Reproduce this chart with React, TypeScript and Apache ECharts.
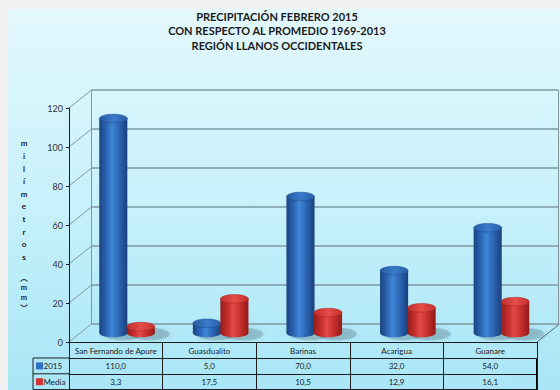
import React, { useEffect, useRef } from 'react';
import * as echarts from 'echarts';

const categories = ['San Fernando de Apure', 'Guasdualito', 'Barinas', 'Acarigua', 'Guanare'];
const values2015 = [110.0, 5.0, 70.0, 32.0, 54.0];
const valuesMedia = [3.3, 17.5, 10.5, 12.9, 16.1];
const seriesNames = ['2015', 'Media'];
const yTicks = [0, 20, 40, 60, 80, 100, 120];
const titleLines = ['PRECIPITACIÓN FEBRERO 2015', 'CON RESPECTO AL PROMEDIO 1969-2013', 'REGIÓN LLANOS OCCIDENTALES'];
const yTitleLetters = ['m', 'i', 'l', 'í', 'm', 'e', 't', 'r', 'o', 's'];
const yUnitLetters = ['︵', 'm', 'm', '︶'];

const FONT = 'Lato, "Noto Sans", sans-serif';
const CJK = '"Noto Sans CJK SC", Lato, sans-serif';
const Y_MAX = 120;
const FRONT = { left: 69, top: 108, width: 468, height: 234 };
const DX = 22.5;
const DY = 18;
const BACK = { left: FRONT.left + DX, top: FRONT.top - DY, width: FRONT.width - 1, height: FRONT.height };
const MID = { left: FRONT.left + DX / 2, top: FRONT.top - DY / 2, width: FRONT.width, height: FRONT.height };

const fmt = (v: number) => v.toFixed(1).replace('.', ',');
const yFront = (v: number) => FRONT.top + FRONT.height * (1 - v / Y_MAX);

const lg = (stops: [number, string][], x2 = 1, y2 = 0) =>
  new echarts.graphic.LinearGradient(0, 0, x2, y2, stops.map(([offset, color]) => ({ offset, color })));

const palettes = [
  {
    body: [[0, '#1a4381'], [0.28, '#2d68b8'], [0.45, '#3e87d8'], [0.72, '#2b63b0'], [1, '#19407c']] as [number, string][],
    top: [[0, '#275aa2'], [0.5, '#3a7bca'], [1, '#2a5ea8']] as [number, string][],
    edge: '#1f4a8a',
    legend: '#2f6fc4',
  },
  {
    body: [[0, '#961d1b'], [0.28, '#c93130'], [0.45, '#e14a46'], [0.72, '#c52e2d'], [1, '#901b19']] as [number, string][],
    top: [[0, '#c22e2b'], [0.5, '#e44d48'], [1, '#c5302d']] as [number, string][],
    edge: '#a72523',
    legend: '#d03330',
  },
];

const cylinder = (side: number, pal: typeof palettes[0]) => (params: any, api: any) => {
  const idx = api.value(0);
  const val = api.value(1);
  const base = api.coord([idx, 0]);
  const top = api.coord([idx, val]);
  const band = api.size([1, 0])[0];
  const w = band * 0.3;
  const rx = w / 2;
  const ry = 4.3;
  const cx = base[0] + side * band * 0.147;
  return {
    type: 'group',
    children: [
      {
        type: 'ellipse',
        shape: { cx: cx + 9, cy: base[1] + 1, rx: rx + 6, ry: ry + 2 },
        style: { fill: 'rgba(70,100,110,0.28)', shadowBlur: 6, shadowColor: 'rgba(70,100,110,0.45)' },
      },
      { type: 'ellipse', shape: { cx, cy: base[1], rx, ry }, style: { fill: lg(pal.body) } },
      {
        type: 'rect',
        shape: { x: cx - rx, y: top[1], width: w, height: base[1] - top[1] },
        style: { fill: lg(pal.body) },
      },
      {
        type: 'ellipse',
        shape: { cx, cy: top[1], rx, ry },
        style: { fill: lg(pal.top), stroke: pal.edge, lineWidth: 0.5 },
      },
    ],
  };
};

export default function App() {
  const ref = useRef<HTMLDivElement>(null);
  useEffect(() => {
    if (!ref.current) return;
    const chart = echarts.init(ref.current, null, { renderer: 'svg' });

    const lineCol = '#1e1e1e';
    const wallCol = '#84979c';
    const graphics: any[] = [
      {
        type: 'rect', z: -10, silent: true,
        shape: { x: 8, y: 9, width: 552, height: 381 },
        style: { fill: lg([[0, '#e3f8fd'], [0.5, '#c8f1fb'], [1, '#a9e6f7']], 0, 1) },
      },
      {
        type: 'text', silent: true, x: 277, y: 9,
        style: {
          text: titleLines.join('\n'), fontSize: 11, fontWeight: 'bold', lineHeight: 14.5,
          fontFamily: FONT, fill: '#1a1a1a', align: 'center', verticalAlign: 'top',
        },
      },
    ];
    yTicks.forEach((v) => {
      const y = yFront(v);
      graphics.push({
        type: 'line', silent: true,
        shape: { x1: FRONT.left, y1: y, x2: FRONT.left + DX, y2: y - DY },
        style: { stroke: wallCol, lineWidth: 1 },
      });
    });
    graphics.push(
      {
        type: 'line', silent: true,
        shape: { x1: BACK.left + BACK.width, y1: BACK.top, x2: BACK.left + BACK.width, y2: BACK.top + BACK.height },
        style: { stroke: wallCol, lineWidth: 1 },
      },
      {
        type: 'line', silent: true,
        shape: { x1: FRONT.left + FRONT.width, y1: FRONT.top + FRONT.height, x2: FRONT.left + FRONT.width + DX, y2: FRONT.top + FRONT.height - DY },
        style: { stroke: '#55656a', lineWidth: 1 },
      }
    );
    // legend column of the data table
    const tY0 = FRONT.top + FRONT.height + 16;
    const rowH = 15.8;
    const tLeft = 33;
    [0, 1, 2].forEach((r) => {
      graphics.push({
        type: 'line', silent: true,
        shape: { x1: tLeft, y1: tY0 + r * rowH, x2: FRONT.left, y2: tY0 + r * rowH },
        style: { stroke: lineCol, lineWidth: 1 },
      });
    });
    graphics.push(
      {
        type: 'line', silent: true,
        shape: { x1: tLeft, y1: tY0, x2: tLeft, y2: tY0 + 2 * rowH },
        style: { stroke: lineCol, lineWidth: 1 },
      },
      {
        type: 'line', silent: true,
        shape: { x1: FRONT.left + FRONT.width, y1: tY0, x2: FRONT.left + FRONT.width, y2: tY0 + 2 * rowH + 1 },
        style: { stroke: '#000', lineWidth: 2 },
      }
    );
    seriesNames.forEach((name, i) => {
      const cy = tY0 + rowH * (i + 0.5);
      graphics.push(
        { type: 'rect', silent: true, shape: { x: 36, y: cy - 3.5, width: 7, height: 7 }, style: { fill: palettes[i].legend } },
        {
          type: 'text', silent: true, x: 43.5, y: cy,
          style: { text: name, fontSize: 8, fontFamily: FONT, fill: '#1a1a1a', verticalAlign: 'middle', align: 'left' },
        }
      );
    });
    // y axis title (stacked letters)
    graphics.push({
      type: 'text', silent: true, x: 24, y: 137,
      style: {
        text: yTitleLetters.join('\n'), fontSize: 8, fontWeight: 'bold', lineHeight: 12.6,
        fontFamily: FONT, fill: '#1a1a1a', align: 'center', verticalAlign: 'top',
      },
    });
    yUnitLetters.forEach((ch, i) => {
      graphics.push({
        type: 'text', silent: true, x: 24, y: 277.5 + i * 10,
        style: {
          text: ch, fontSize: 7.5, fontWeight: 'bold',
          fontFamily: i === 0 || i === 3 ? CJK : FONT, fill: '#1a1a1a', align: 'center', verticalAlign: 'middle',
        },
      });
    });

    const hiddenCat = (gridIndex: number) => ({ type: 'category', gridIndex, data: categories, show: false });
    const rowAxis = (offset: number, vals: number[] | null) => ({
      type: 'category', gridIndex: 1, data: categories, position: 'bottom', offset,
      axisLine: { show: true, lineStyle: { color: lineCol, width: 1 } },
      axisTick: { show: false },
      axisLabel: vals
        ? { show: true, interval: 0, margin: 4, fontSize: 8, fontFamily: FONT, color: '#1a1a1a', formatter: (_: string, i: number) => fmt(vals[i]) }
        : { show: false },
      splitLine: { show: false },
    });

    const option: any = {
      animation: false,
      backgroundColor: '#f1f1f1',
      grid: [
        { left: BACK.left, top: BACK.top, width: BACK.width, height: BACK.height, containLabel: false },
        { left: FRONT.left, top: FRONT.top, width: FRONT.width, height: FRONT.height, containLabel: false },
        { left: MID.left, top: MID.top, width: MID.width, height: MID.height, containLabel: false },
      ],
      xAxis: [
        hiddenCat(0),
        {
          type: 'category', gridIndex: 1, data: categories, position: 'bottom',
          axisLine: { show: true, lineStyle: { color: lineCol, width: 1 } },
          axisTick: { show: true, interval: 0, length: 47, lineStyle: { color: lineCol, width: 1 } },
          axisLabel: { show: true, interval: 0, margin: 5, fontSize: 8, fontFamily: FONT, color: '#1a1a1a' },
          splitLine: { show: false },
        },
        hiddenCat(2),
        rowAxis(16, values2015),
        rowAxis(32, valuesMedia),
        rowAxis(47, null),
      ],
      yAxis: [
        {
          type: 'value', gridIndex: 0, min: 0, max: Y_MAX, interval: 20,
          axisLine: { show: true, lineStyle: { color: wallCol, width: 1 } },
          axisTick: { show: false }, axisLabel: { show: false },
          splitLine: { show: true, lineStyle: { color: '#7f989f', width: 1.5 } },
        },
        {
          type: 'value', gridIndex: 1, min: 0, max: Y_MAX, interval: 20,
          axisLine: { show: true, lineStyle: { color: lineCol, width: 1 } },
          axisTick: { show: true, length: 3, lineStyle: { color: lineCol } },
          axisLabel: { show: true, margin: 6, fontSize: 9, fontFamily: FONT, color: '#333' },
          splitLine: { show: false },
        },
        { type: 'value', gridIndex: 2, min: 0, max: Y_MAX, show: false },
      ],
      series: [
        {
          type: 'custom', name: seriesNames[0], xAxisIndex: 2, yAxisIndex: 2,
          data: values2015.map((v, i) => [i, v]), encode: { x: 0, y: 1 },
          renderItem: cylinder(-1, palettes[0]), z: 3,
        },
        {
          type: 'custom', name: seriesNames[1], xAxisIndex: 2, yAxisIndex: 2,
          data: valuesMedia.map((v, i) => [i, v]), encode: { x: 0, y: 1 },
          renderItem: cylinder(1, palettes[1]), z: 4,
        },
      ],
      graphic: graphics,
    };
    chart.setOption(option);
    return () => chart.dispose();
  }, []);

  return (
    <div style={{ position: 'fixed', left: 0, top: 0, width: 560, height: 390 }}>
      <div ref={ref} style={{ width: 560, height: 390 }} />
    </div>
  );
}
